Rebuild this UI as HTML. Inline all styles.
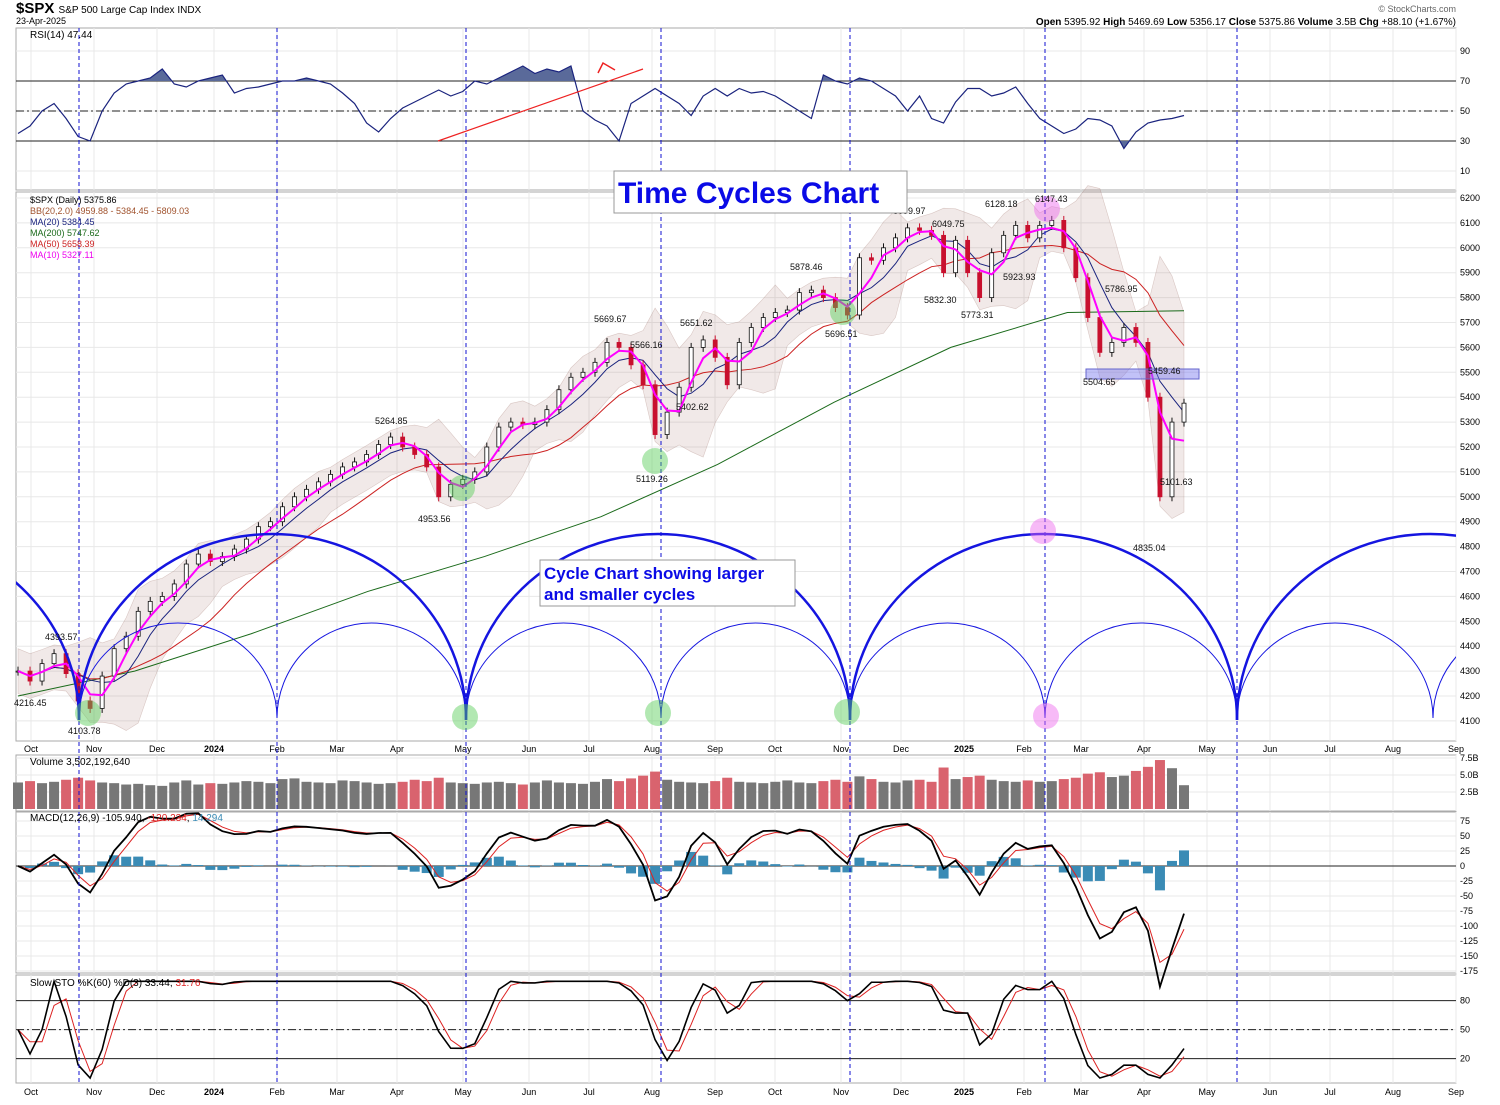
<!DOCTYPE html>
<html><head><meta charset="utf-8"><style>
body{margin:0;background:#fff;width:1500px;height:1100px;overflow:hidden;font-family:"Liberation Sans","DejaVu Sans",sans-serif}
svg text{font-family:"Liberation Sans","DejaVu Sans",sans-serif}
</style></head><body>
<svg id="chart" width="1500" height="1100" viewBox="0 0 1500 1100" xmlns="http://www.w3.org/2000/svg">
<text x="16" y="13" font-size="15" font-weight="bold">$SPX <tspan font-size="10" font-weight="normal">S&amp;P 500 Large Cap Index  INDX</tspan></text>
<text x="16" y="24" font-size="9">23-Apr-2025</text>
<text x="1456" y="12" font-size="9" fill="#666" text-anchor="end">© StockCharts.com</text>
<text x="1456" y="25" font-size="10" text-anchor="end"><tspan font-weight="bold">Open</tspan> 5395.92  <tspan font-weight="bold">High</tspan> 5469.69  <tspan font-weight="bold">Low</tspan> 5356.17  <tspan font-weight="bold">Close</tspan> 5375.86  <tspan font-weight="bold">Volume</tspan> 3.5B  <tspan font-weight="bold">Chg</tspan> +88.10 (+1.67%)</text>
<g id="layer"></g>
</svg>
<script>
const closes=[4300,4260,4330,4370,4290,4180,4150,4280,4390,4440,4540,4580,4600,4650,4730,4770,4740,4760,4790,4830,4880,4900,4960,5000,5030,5060,5090,5120,5140,5170,5210,5240,5200,5170,5120,5000,5050,5070,5100,5200,5280,5300,5290,5300,5350,5430,5480,5500,5540,5620,5600,5530,5450,5250,5340,5440,5600,5630,5560,5450,5620,5680,5720,5740,5750,5820,5830,5800,5760,5730,5960,5950,6000,6040,6080,6070,6050,5900,6030,5900,5800,5980,6050,6090,6040,6090,6110,6000,5880,5720,5580,5620,5680,5620,5400,5000,5300,5376];
const ma200=[4200,4300,4450,4620,4760,4920,5130,5380,5600,5740,5747];
const rsi=[35,40,50,55,45,33,30,50,62,68,70,72,78,68,66,70,72,74,62,65,66,68,70,70,72,70,68,62,55,42,36,45,52,56,60,64,60,63,70,68,72,76,80,75,78,76,80,50,44,40,30,55,60,65,60,55,47,60,65,60,65,62,63,60,55,50,45,74,70,68,72,70,65,60,50,60,45,42,56,65,65,60,62,66,55,45,40,35,38,45,44,40,25,36,42,44,45,47];
const vols=[3.9,4.1,3.8,4.0,4.3,4.6,4.2,3.9,3.8,3.6,3.7,3.5,3.4,3.9,4.2,3.6,3.8,3.7,3.9,4.1,4.0,3.8,4.4,4.5,4.0,3.9,3.8,4.2,4.1,3.9,3.7,3.8,4.0,4.3,4.1,4.6,3.9,3.8,3.7,3.9,4.0,3.8,3.6,3.9,4.2,3.9,3.8,3.7,4.0,4.4,4.1,4.5,4.9,5.5,4.3,4.0,3.9,3.8,4.1,4.6,4.0,3.9,3.8,4.0,4.2,3.9,3.8,4.1,4.3,4.0,4.8,4.4,4.0,3.9,4.2,4.3,4.0,6.1,4.4,4.7,4.9,4.3,4.1,4.0,4.2,4.0,4.1,4.4,4.6,5.2,5.4,4.7,4.9,5.6,6.2,7.2,6.0,3.5];
const priceTicks=[6200,6100,6000,5900,5800,5700,5600,5500,5400,5300,5200,5100,5000,4900,4800,4700,4600,4500,4400,4300,4200,4100];
const monthLabels=["Oct","Nov","Dec","2024","Feb","Mar","Apr","May","Jun","Jul","Aug","Sep","Oct","Nov","Dec","2025","Feb","Mar","Apr","May","Jun","Jul","Aug","Sep"];
const monthDay=[5,26,47,66,87,107,127,149,171,191,212,233,253,275,295,316,336,355,376,397,418,438,459,480];
const cycleDays=[21,87,150,215,278,343,407];
const rsiTicks=[90,70,50,30,10];
const macdTicks=[75,50,25,0,-25,-50,-75,-100,-125,-150,-175];
const stoTicks=[80,50,20];
const volTicks=[7.5,5.0,2.5];
const priceNotes=[["4393.57",45,640],["4216.45",14,706],["4103.78",68,734],["5264.85",375,424],["4953.56",418,522],["5669.67",594,322],["5566.16",630,348],["5651.62",680,326],["5119.26",636,482],["5402.62",676,410],["5878.46",790,270],["5696.51",825,337],["6099.97",893,214],["6049.75",932,227],["5832.30",924,303],["5773.31",961,318],["6128.18",985,207],["5923.93",1003,280],["6147.43",1035,202],["5786.95",1105,292],["5504.65",1083,385],["5459.46",1148,374],["5101.63",1160,485],["4835.04",1133,551]];

const NS="http://www.w3.org/2000/svg";
const L=document.getElementById('layer');
function mk(tag,attrs,parent){const e=document.createElementNS(NS,tag);for(const k in attrs)e.setAttribute(k,attrs[k]);(parent||L).appendChild(e);return e;}
const X0=16,X1=1456,DAYPX=3.0;
const xi=i=>X0+2+i*(1184-18)/(closes.length-1);
const xd=d=>X0+d*DAYPX;
const yP=p=>198+(6200-p)*0.249;
const yR=v=>111-(v-50)*1.5;
const yV=v=>809-v*6.8;
const yM=v=>866-v*0.6;
const yS=v=>1078-v*0.967;
const panels=[[28,190,"rsi-panel"],[192,741,"price-panel"],[755,811,"volume-panel"],[812,973,"macd-panel"],[975,1083,"sto-panel"]];
panels.forEach(p=>{const r=mk('rect',{x:X0,y:p[0],width:X1-X0,height:p[1]-p[0],fill:'none',stroke:'#aaa','stroke-width':1});

});
monthDay.forEach((d,i)=>{[[28,190],[192,741],[755,811],[812,973],[975,1083]].forEach(p=>{const g=mk('line',{x1:xd(d),x2:xd(d),y1:p[0],y2:p[1],stroke:'#e8e8e8'});

});
[748,1091].forEach(yy=>{const t=mk('text',{x:xd(d),y:yy+4,'font-size':9,'text-anchor':'middle','font-weight':monthLabels[i].length==4?'bold':'normal'});t.textContent=monthLabels[i];

});});
function ticks(arr,fy,fmt,name){arr.forEach(v=>{const g=mk('line',{x1:X0,x2:X1,y1:fy(v),y2:fy(v),stroke:'#e8e8e8'});


const t=mk('text',{x:1460,y:fy(v)+3,'font-size':9});t.textContent=fmt(v);

});}
ticks(priceTicks,yP,v=>v,'price');ticks(rsiTicks,yR,v=>v,'rsi');ticks(macdTicks,yM,v=>v,'macd');ticks(stoTicks,yS,v=>v,'sto');ticks(volTicks,yV,v=>v.toFixed(1)+'B','volume');
function hl(y,dash,name){const l=mk('line',{x1:X0,x2:X1,y1:y,y2:y,stroke:'#222','stroke-width':1,'stroke-dasharray':dash||''});

}
hl(yR(70),'','rsi-70-line');hl(yR(50),'8,3,2,3','rsi-50-line');hl(yR(30),'','rsi-30-line');
hl(yS(80),'','sto-80-line');hl(yS(50),'8,3,2,3','sto-50-line');hl(yS(20),'','sto-20-line');hl(yM(0),'','macd-zero-line');
function ma(a,n){return a.map((v,i)=>{const s=a.slice(Math.max(0,i-n+1),i+1);return s.reduce((x,y)=>x+y,0)/s.length;});}
function sd(a,n){return a.map((v,i)=>{const s=a.slice(Math.max(0,i-n+1),i+1);const m=s.reduce((x,y)=>x+y,0)/s.length;return Math.sqrt(s.reduce((x,y)=>x+(y-m)*(y-m),0)/s.length);});}
function ema(a,n){const k=2/(n+1);let e=a[0];return a.map(v=>e=v*k+e*(1-k));}
function poly(vals,fx,fy,attrs,name){const p=mk('polyline',Object.assign({points:vals.map((v,i)=>fx(i)+','+fy(v)).join(' '),fill:'none'},attrs));

return p;}
const m20=ma(closes,5),s20=sd(closes,5);
const up=m20.map((m,i)=>m+2*Math.max(s20[i],45)),dn=m20.map((m,i)=>m-2*Math.max(s20[i],45));
const bb=mk('polygon',{points:up.map((v,i)=>xi(i)+','+yP(v)).concat(dn.map((v,i)=>xi(i)+','+yP(v)).reverse()).join(' '),fill:'rgba(170,120,110,0.16)',stroke:'rgba(150,100,90,0.3)','stroke-width':0.6});


poly(ma200,i=>xi(i*(closes.length-1)/(ma200.length-1)),yP,{stroke:'#1a6a1a','stroke-width':1},'ma200-line');
poly(ma(closes,12),xi,yP,{stroke:'#c22','stroke-width':1},'ma50-line');
poly(m20,xi,yP,{stroke:'#1a237e','stroke-width':1},'ma20-line');
closes.forEach((c,i)=>{const o=i?closes[i-1]:c;const upc=c>=o;const col=upc?'#111':'#c8102e';
const w=mk('line',{x1:xi(i),x2:xi(i),y1:yP(Math.max(o,c)+18),y2:yP(Math.min(o,c)-18),stroke:col,'stroke-width':1});


const b=mk('rect',{x:xi(i)-2,y:yP(Math.max(o,c)),width:4,height:Math.max(1,Math.abs(yP(o)-yP(c))),fill:upc?'#fff':col,stroke:col,'stroke-width':0.8});

});
poly(ma(closes,3),xi,yP,{stroke:'#f0f','stroke-width':2},'ma10-line');
// RSI with overbought/oversold fills
const rx=i=>X0+2+i*(1184-18)/(rsi.length-1);
const cpA=mk('clipPath',{id:'rsiHi'});mk('rect',{x:X0,y:28,width:X1-X0,height:yR(70)-28},cpA);
const cpB=mk('clipPath',{id:'rsiLo'});mk('rect',{x:X0,y:yR(30),width:X1-X0,height:190-yR(30)},cpB);
const pts=rsi.map((v,i)=>rx(i)+','+yR(v)).join(' ');
const fa=mk('polygon',{points:rx(0)+','+yR(70)+' '+pts+' '+rx(rsi.length-1)+','+yR(70),fill:'#5a6a9a','clip-path':'url(#rsiHi)'});


const fb=mk('polygon',{points:rx(0)+','+yR(30)+' '+pts+' '+rx(rsi.length-1)+','+yR(30),fill:'#5a6a9a','clip-path':'url(#rsiLo)'});


poly(rsi,rx,yR,{stroke:'#1a237e','stroke-width':1.2},'rsi-line');
vols.forEach((v,i)=>{const down=i&&closes[i]<closes[i-1];const r=mk('rect',{x:xi(i)-5,y:yV(v),width:10,height:809-yV(v),fill:down?'#d9636e':'#777'});

});
const e6=ema(closes,6.5);
const macd=ema(closes,3).map((v,i)=>v-e6[i]);
const sig=ema(macd,2.25);
macd.forEach((v,i)=>{const h=v-sig[i];const r=mk('rect',{x:xi(i)-5,y:Math.min(yM(0),yM(h)),width:10,height:Math.abs(yM(h)-yM(0)),fill:'#3a8bb5'});

});
poly(sig,xi,yM,{stroke:'#d22','stroke-width':1},'macd-signal-line');
poly(macd,xi,yM,{stroke:'#000','stroke-width':1.8},'macd-line');
const K=closes.map((c,i)=>{const s=closes.slice(Math.max(0,i-14),i+1);const mn=Math.min(...s),mx=Math.max(...s);return mx>mn?(c-mn)/(mx-mn)*100:50;});
const Ks=ma(K,2),Ds=ma(Ks,2);
poly(Ds,xi,yS,{stroke:'#d22','stroke-width':1},'sto-d-line');
poly(Ks,xi,yS,{stroke:'#000','stroke-width':1.6},'sto-k-line');
cycleDays.forEach(d=>{const l=mk('line',{x1:xd(d),x2:xd(d),y1:28,y2:1083,stroke:'#1010d0','stroke-width':1,'stroke-dasharray':'4,3'});

});
const clip=mk('clipPath',{id:'pc'});mk('rect',{x:X0,y:192,width:X1-X0,height:549},clip);
const gArc=mk('g',{'clip-path':'url(#pc)'});
[[xd(cycleDays[0])-(xd(cycleDays[2])-xd(cycleDays[0])),xd(cycleDays[0])],[xd(cycleDays[0]),xd(cycleDays[2])],[xd(cycleDays[2]),xd(cycleDays[4])],[xd(cycleDays[4]),xd(cycleDays[6])],[xd(cycleDays[6]),xd(cycleDays[6])+(xd(cycleDays[6])-xd(cycleDays[4]))]].forEach(a=>{const rx=(a[1]-a[0])/2;const p=mk('path',{d:`M${a[0]},720 A${rx},186 0 0 1 ${a[1]},720`,fill:'none',stroke:'#1515e0','stroke-width':2.5},gArc);

});
for(let k=0;k<8;k++){const a=k<6?xd(cycleDays[k]):xd(cycleDays[6])+(k-6)*196,b=k<6?xd(cycleDays[k+1]):a+196;const p=mk('path',{d:`M${a},718 A${(b-a)/2},95 0 0 1 ${b},718`,fill:'none',stroke:'#1515e0','stroke-width':1},gArc);

}
[[88,713,'#5c5'],[465,717,'#5c5'],[658,713,'#5c5'],[847,712,'#5c5'],[462,488,'#5c5'],[655,461,'#5c5'],[843,312,'#5c5'],[1043,531,'#e6e'],[1046,716,'#e6e'],[1047,209,'#e6e']].forEach(c=>{const e=mk('circle',{cx:c[0],cy:c[1],r:13,fill:c[2],'fill-opacity':0.45});

});
const hb=mk('rect',{x:1086,y:369,width:113,height:10,fill:'rgba(120,120,240,0.45)',stroke:'#66c'});


const tl=mk('line',{x1:438,y1:141,x2:643,y2:69,stroke:'#e22','stroke-width':1.2});


const tr=mk('polyline',{points:'598,73 603,63 615,70',fill:'none',stroke:'#e22','stroke-width':1.5});


priceNotes.forEach(n=>{const t=mk('text',{x:n[1],y:n[2],'font-size':9,fill:'#111'});t.textContent=n[0];

});
function txt(x,y,s,fill,size,name){const t=mk('text',{x:x,y:y,'font-size':size||9,fill:fill||'#000'});t.textContent=s;

return t;}
txt(30,38,'RSI(14) 47.44','#000',10,'rsi-legend');
[['$SPX (Daily) 5375.86','#000'],['BB(20,2.0) 4959.88 - 5384.45 - 5809.03','#a0522d'],['MA(20) 5384.45','#1a237e'],['MA(200) 5747.62','#1a6a1a'],['MA(50) 5658.39','#c22'],['MA(10) 5327.11','#e0e']].forEach((l,i)=>txt(30,203+i*11,l[0],l[1],9,'price-legend-entry'));
txt(30,765,'Volume 3,502,192,640','#000',10,'volume-legend');
const ml=txt(30,821,'','#000',10,'macd-legend');
ml.innerHTML='MACD(12,26,9) -105.940, <tspan fill="#d22">-120.234</tspan>, <tspan fill="#3a8bb5">14.294</tspan>';
const sl=txt(30,986,'','#000',10,'sto-legend');
sl.innerHTML='Slow STO %K(60) %D(3) 33.44, <tspan fill="#d22">31.76</tspan>';
const b1=mk('rect',{x:614,y:171,width:293,height:42,fill:'#fff',stroke:'#999'});


txt(618,203,'Time Cycles Chart','#0a0ae6',30,'chart-title').setAttribute('font-weight','bold');
const b2=mk('rect',{x:540,y:560,width:255,height:46,fill:'#fff',stroke:'#999'});


txt(544,579,'Cycle Chart showing larger','#0a0ae6',17,'annotation-line-1').setAttribute('font-weight','bold');
txt(544,600,'and smaller cycles','#0a0ae6',17,'annotation-line-2').setAttribute('font-weight','bold');
</script>
</body></html>
